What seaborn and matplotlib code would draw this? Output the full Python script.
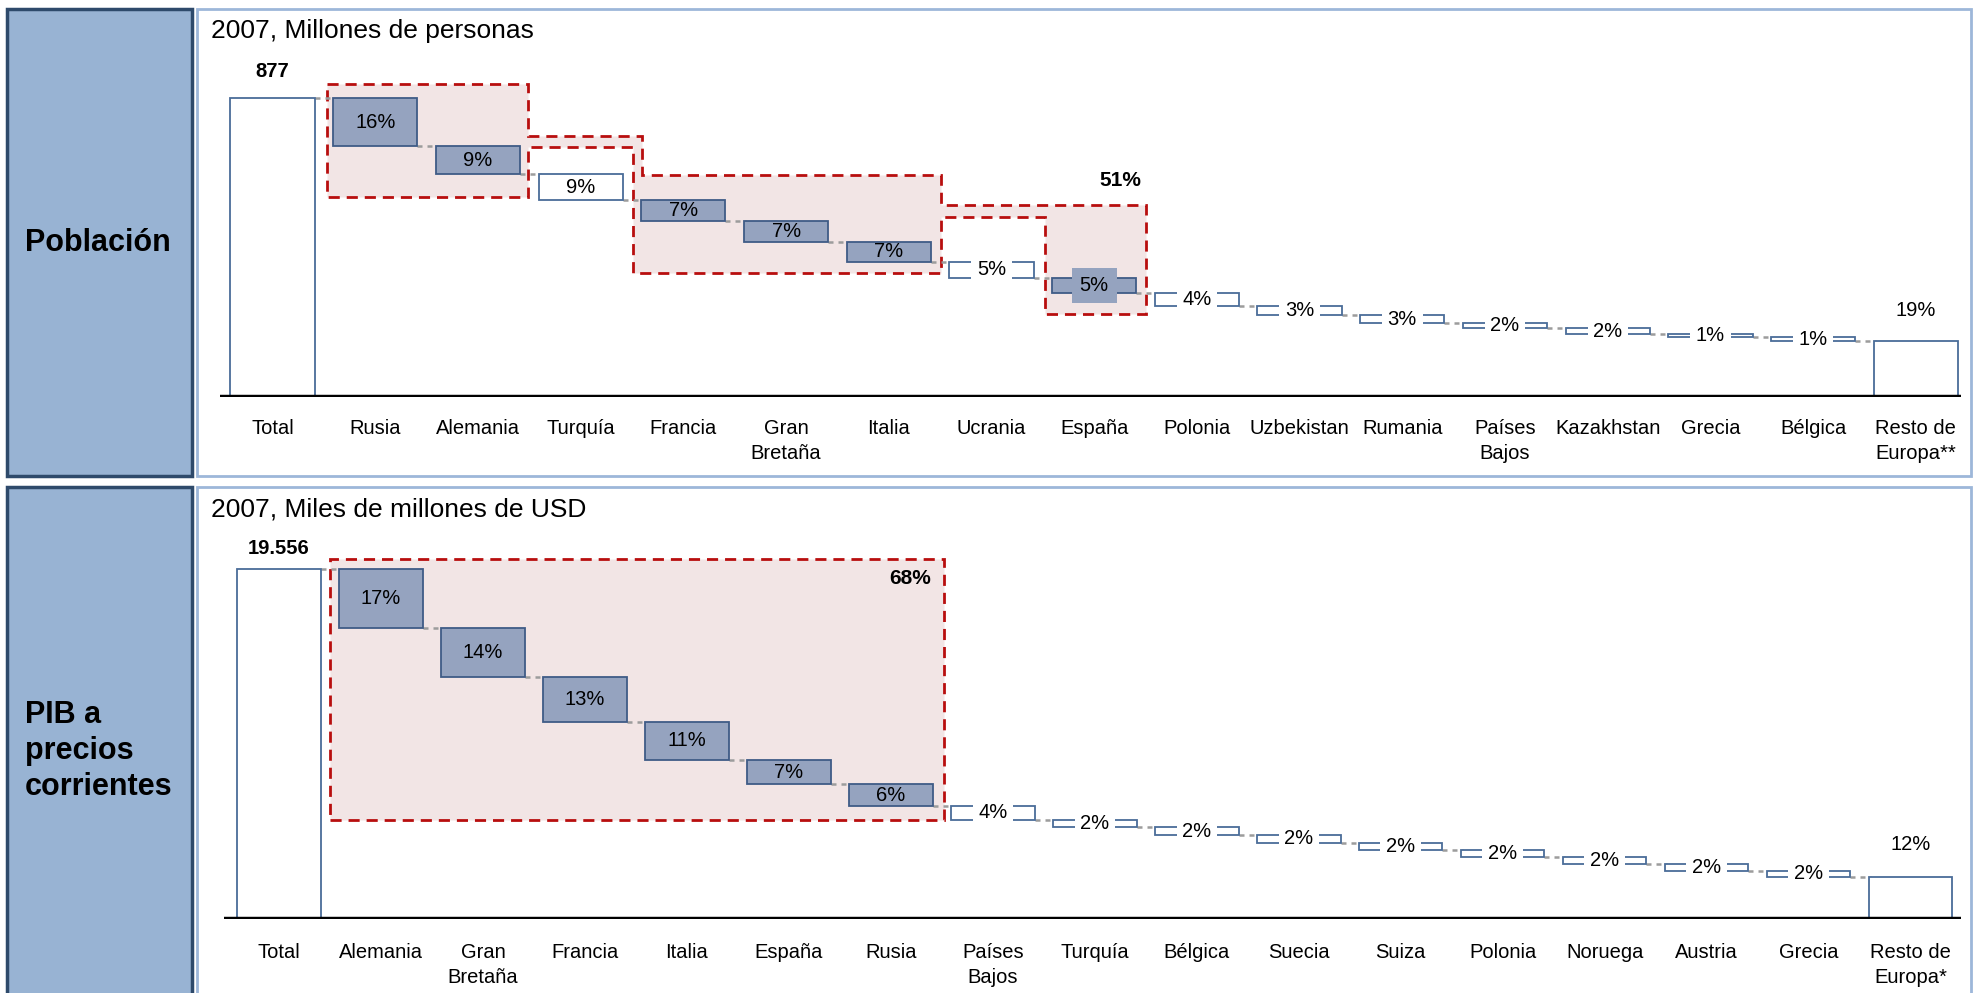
import numpy as np
import matplotlib
matplotlib.use("Agg")
import matplotlib.pyplot as plt
from matplotlib.patches import Rectangle, Polygon
import seaborn as sns

# ------------------------------------------------------------------ data
pop_total = 877
pop_countries = ["Rusia", "Alemania", "Turquía", "Francia", "Gran\nBretaña", "Italia",
                 "Ucrania", "España", "Polonia", "Uzbekistan", "Rumania", "Países\nBajos",
                 "Kazakhstan", "Grecia", "Bélgica"]
pop_values = [142, 82, 75, 62, 61, 59, 46, 45, 38, 27, 23, 16, 15, 11, 10.5]
pop_rest = 164.5
pop_rest_label = "Resto de\nEuropa**"
pop_highlight = ["Rusia", "Alemania", "Francia", "Gran\nBretaña", "Italia", "España"]
pop_group_label = "51%"
pop_title = "2007, Millones de personas"
pop_side = "Población"

gdp_total = 19556
gdp_countries = ["Alemania", "Gran\nBretaña", "Francia", "Italia", "España", "Rusia",
                 "Países\nBajos", "Turquía", "Bélgica", "Suecia", "Suiza", "Polonia",
                 "Noruega", "Austria", "Grecia"]
gdp_values = [3300, 2740, 2520, 2100, 1380, 1200, 760, 440, 430, 420, 410, 400, 380, 370, 350]
gdp_rest = 2356
gdp_rest_label = "Resto de\nEuropa*"
gdp_highlight = ["Alemania", "Gran\nBretaña", "Francia", "Italia", "España", "Rusia"]
gdp_group_label = "68%"
gdp_title = "2007, Miles de millones de USD"
gdp_side = "PIB a\nprecios\ncorrientes"

# ------------------------------------------------------------------ style
sns.set_theme(style="white")
plt.rcParams["font.family"] = ["Liberation Sans", "DejaVu Sans"]
plt.rcParams["text.color"] = "black"
plt.rcParams["xtick.labelcolor"] = "black"

W, H = 1974, 993
HL_FILL = "#95A3BF"
HL_EDGE = "#3F5B86"
BAR_EDGE = "#4A6C98"
BOX_FILL = "#F2E5E5"
BOX_EDGE = "#B80E0E"
CONN = "#9C9C9C"
SIDE_FILL = "#98B3D3"
SIDE_EDGE = "#2E4A6B"
PANEL_EDGE = "#9DB7D9"
BAR_W = 0.82


def fx(px):
    return px / W


def fy(py):
    return 1 - py / H


fig = plt.figure(figsize=(W / 100, H / 100), dpi=100)

# side boxes and panels (figure pixel geometry)
for (y0, y1), side_text, title in [((9, 476), pop_side, pop_title),
                                   ((487, 1000), gdp_side, gdp_title)]:
    fig.add_artist(Rectangle((fx(7), fy(y1)), (192 - 7) / W, (y1 - y0) / H,
                             transform=fig.transFigure, facecolor=SIDE_FILL,
                             edgecolor=SIDE_EDGE, lw=2.5, zorder=-2))
    fig.add_artist(Rectangle((fx(197), fy(y1)), (1971 - 197) / W, (y1 - y0) / H,
                             transform=fig.transFigure, facecolor="white",
                             edgecolor=PANEL_EDGE, lw=2, zorder=-2))

fig.text(fx(25), fy(243), pop_side, fontsize=22, fontweight="bold", va="center", ha="left")
fig.text(fx(25), fy(751), gdp_side, fontsize=22, fontweight="bold", va="center", ha="left",
         linespacing=1.25)
fig.text(fx(211), fy(31), pop_title, fontsize=19, va="center", ha="left")
fig.text(fx(211), fy(510), gdp_title, fontsize=19, va="center", ha="left")


def waterfall(ax, total, names, values, rest, rest_label, highlight, total_text,
              xlim, ytop, total_off, rest_off, pad):
    cats = ["Total"] + names + [rest_label]
    heights = np.array([total] + values + [rest], dtype=float)
    run = total - np.cumsum(values)
    bottoms = np.concatenate([[0.0], run, [0.0]])
    tops = bottoms + heights

    sns.barplot(x=cats, y=heights, bottom=bottoms, ax=ax, color="white", saturation=1,
                width=BAR_W, errorbar=None, edgecolor=BAR_EDGE, linewidth=1.3)
    bars = ax.containers[-1]
    for i, rect in enumerate(bars):
        rect.set_zorder(2)
        if cats[i] in highlight:
            rect.set_facecolor(HL_FILL)
            rect.set_edgecolor(HL_EDGE)
        else:
            rect.set_facecolor("white")
            rect.set_edgecolor(BAR_EDGE)

    # connectors
    half = BAR_W / 2
    for i in range(len(cats) - 1):
        lvl = tops[i + 1]
        ax.plot([i + half, i + 1 - half + 0.02], [lvl, lvl], color=CONN, lw=1.8,
                linestyle=(0, (2, 2)), zorder=1.5, solid_capstyle="butt")

    # labels
    for i in range(1, len(cats) - 1):
        pct = int(round(heights[i] / total * 100))
        hl = cats[i] in highlight
        kw = {}
        if pct <= 5:
            kw["bbox"] = dict(boxstyle="square,pad=0.4" if hl else "square,pad=0.28",
                              facecolor=HL_FILL if hl else "white", edgecolor="none")
        ax.text(i, bottoms[i] + heights[i] / 2, f"{pct}%", ha="center", va="center",
                fontsize=14.5, zorder=3, **kw)
    ax.annotate(total_text, (0, total), xytext=(0, total_off), textcoords="offset points",
                ha="center", va="center", fontsize=14.5, fontweight="bold")
    rest_pct = int(round(rest / total * 100))
    ax.annotate(f"{rest_pct}%", (len(cats) - 1, rest), xytext=(0, rest_off),
                textcoords="offset points", ha="center", va="center", fontsize=14.5)

    ax.axhline(0, color="black", lw=3.2, zorder=5)
    ax.set_xlim(*xlim)
    ax.set_ylim(0, ytop)
    ax.set_yticks([])
    ax.set_ylabel("")
    sns.despine(ax=ax, left=True, bottom=True)
    ax.patch.set_alpha(0)
    ax.tick_params(axis="x", length=0, pad=pad, labelsize=14.5, labelcolor="black")
    for lbl in ax.get_xticklabels():
        lbl.set_linespacing(1.45)
    return tops, bottoms


# ---- population panel
ax1 = fig.add_axes([fx(220), fy(397), (1961 - 220) / W, (397 - 60) / H])
ytop1 = pop_total * (397 - 60) / (397 - 98)
tops, bots = waterfall(ax1, pop_total, pop_countries, pop_values, pop_rest, pop_rest_label,
                       pop_highlight, f"{pop_total}", (-0.512, 16.44), ytop1, 19, 22, 15.5)
u = pop_total / 100
h = BAR_W / 2
verts = [
    (1 - h - 0.06, pop_total + 4.7 * u), (2 + h + 0.08, pop_total + 4.7 * u),
    (2 + h + 0.08, tops[2] + 3.5 * u), (4 - h + 0.01, tops[2] + 3.5 * u),
    (4 - h + 0.01, tops[4] + 8.3 * u), (6 + h + 0.10, tops[4] + 8.3 * u),
    (6 + h + 0.10, tops[4] - 1.7 * u), (8 + h + 0.09, tops[4] - 1.7 * u),
    (8 + h + 0.09, bots[8] - 7.0 * u), (8 - h - 0.07, bots[8] - 7.0 * u),
    (8 - h - 0.07, tops[4] - 5.6 * u), (6 + h + 0.10, tops[4] - 5.6 * u),
    (6 + h + 0.10, bots[6] - 3.8 * u), (4 - h - 0.08, bots[6] - 3.8 * u),
    (4 - h - 0.08, tops[2] - 0.2 * u), (2 + h + 0.08, tops[2] - 0.2 * u),
    (2 + h + 0.08, bots[2] - 7.7 * u), (1 - h - 0.06, bots[2] - 7.7 * u),
]
ax1.add_patch(Polygon(verts, closed=True, facecolor=BOX_FILL, edgecolor=BOX_EDGE,
                      lw=2, linestyle=(0, (4, 2.5)), zorder=1))
ax1.annotate(pop_group_label, (8 + h + 0.09, tops[4] - 1.7 * u), xytext=(-3, 18),
             textcoords="offset points", ha="right", va="center", fontsize=15,
             fontweight="bold")

# ---- GDP panel
ax2 = fig.add_axes([fx(224), fy(919), (1961.5 - 224) / W, (919 - 520) / H])
ytop2 = gdp_total * (919 - 520) / (919 - 569)
gdp_total_text = f"{gdp_total:,}".replace(",", ".")
tops2, bots2 = waterfall(ax2, gdp_total, gdp_countries, gdp_values, gdp_rest, gdp_rest_label,
                         gdp_highlight, gdp_total_text, (-0.54, 16.50), ytop2, 15, 23, 17)
u2 = gdp_total / 100
x0, x1 = 1 - h - 0.09, 6 + h + 0.11
yb0, yb1 = bots2[6] - 3.9 * u2, gdp_total + 2.9 * u2
ax2.add_patch(Polygon([(x0, yb0), (x1, yb0), (x1, yb1), (x0, yb1)], closed=True,
                      facecolor=BOX_FILL, edgecolor=BOX_EDGE, lw=2,
                      linestyle=(0, (4, 2.5)), zorder=1))
ax2.annotate(gdp_group_label, (x1, yb1), xytext=(-9, -14), textcoords="offset points",
             ha="right", va="center", fontsize=15, fontweight="bold")

fig.savefig("out.png", dpi=100)
